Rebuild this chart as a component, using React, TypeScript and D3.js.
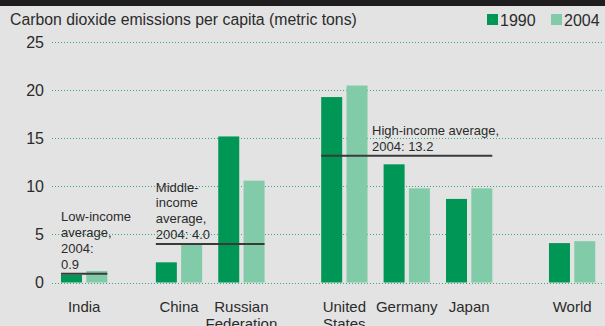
import React from "react";
import * as d3 from "d3";

const categories = ["India", "China", "Russian\nFederation", "United\nStates", "Germany", "Japan", "World"];
const values1990 = [0.8, 2.1, 15.2, 19.3, 12.3, 8.7, 4.1];
const values2004 = [1.2, 4.0, 10.6, 20.5, 9.8, 9.8, 4.3];
const yTicks = [0, 5, 10, 15, 20, 25];
const seriesNames = ["1990", "2004"];

const averages = [
  { label: ["Low-income", "average,", "2004:", "0.9"], value: 0.9, from: 0, to: 0 },
  { label: ["Middle-", "income", "average,", "2004: 4.0"], value: 4.0, from: 1, to: 2 },
  { label: ["High-income average,", "2004: 13.2"], value: 13.2, from: 3, to: 5 },
];

// layout: group slot positions (gaps between regional clusters)
const slots = [0, 1.52, 2.52, 4.17, 5.17, 6.17, 7.82];

const W = 605;
const H = 326;
const DARK = "#009655";
const LIGHT = "#82cba8";
const TEXT = "#2b2b2b";
const FONT = "'Liberation Sans', Arial, sans-serif";

export default function App() {
  const y = d3.scaleLinear().domain([0, 25]).range([282.5, 42.3]);
  const x = d3.scaleLinear().domain([0, 1]).range([61, 61 + 62.4]);
  const barW = 21;
  const step = 25.3;
  const groupW = step + barW;

  return (
    <svg width={W} height={H} style={{ position: "absolute", left: 0, top: 0 }} fontFamily={FONT}>
      <rect x={0} y={0} width={W} height={H} fill="#e3e3e3" />
      <rect x={0} y={0} width={W} height={6} fill="#1f1d1e" />
      <text x={10} y={25} fontSize={15.8} fill={TEXT}>
        Carbon dioxide emissions per capita (metric tons)
      </text>
      {seriesNames.map((s, i) => {
        const lx = i === 0 ? 487 : 551;
        return (
          <g key={s}>
            <rect x={lx} y={14} width={11} height={11} fill={i === 0 ? DARK : LIGHT} />
            <text x={lx + 13} y={25.5} fontSize={16} fill={TEXT}>
              {s}
            </text>
          </g>
        );
      })}
      {yTicks.map((t) => (
        <g key={t}>
          <line
            x1={52}
            x2={603}
            y1={Math.round(y(t)) + 0.5}
            y2={Math.round(y(t)) + 0.5}
            stroke="#34a876"
            strokeWidth={1}
            strokeDasharray="1,2"
          />
          <text x={44} y={y(t) + 5.5} fontSize={16} textAnchor="end" fill={TEXT}>
            {t}
          </text>
        </g>
      ))}
      {categories.map((c, i) => {
        const gx = x(slots[i]);
        return (
          <g key={c}>
            <rect x={gx} y={y(values1990[i])} width={barW} height={y(0) - y(values1990[i])} fill={DARK} />
            <rect x={gx + step} y={y(values2004[i])} width={barW} height={y(0) - y(values2004[i])} fill={LIGHT} />
            <text x={gx + groupW / 2} y={312} fontSize={15} textAnchor="middle" fill={TEXT}>
              {c.split("\n").map((ln, j) => (
                <tspan key={j} x={gx + groupW / 2} dy={j === 0 ? 0 : 16.5}>
                  {ln}
                </tspan>
              ))}
            </text>
          </g>
        );
      })}
      {averages.map((a, i) => {
        const x1 = x(slots[a.from]);
        const x2 = x(slots[a.to]) + groupW;
        const ly = y(a.value);
        const n = a.label.length;
        return (
          <g key={i}>
            <line x1={x1} x2={x2} y1={ly} y2={ly} stroke="#3a3a3a" strokeWidth={2} />
            <text x={i === 2 ? 372 : x1} fontSize={13} fill={TEXT}>
              {a.label.map((ln, j) => (
                <tspan key={j} x={i === 2 ? 372 : x1} y={ly - 5 - (n - 1 - j) * 15.8}>
                  {ln}
                </tspan>
              ))}
            </text>
          </g>
        );
      })}
    </svg>
  );
}
